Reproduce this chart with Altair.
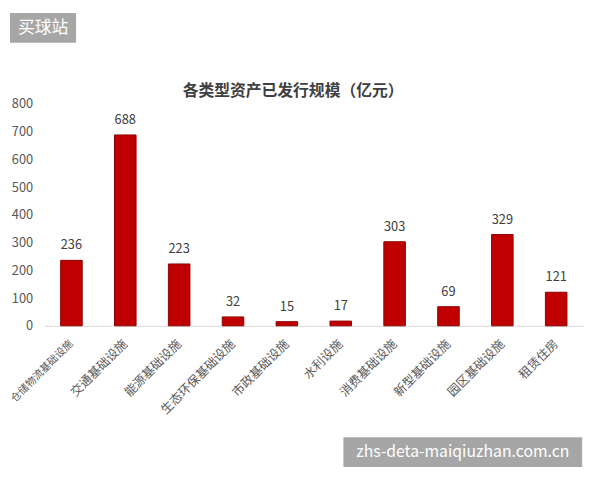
import altair as alt
import pandas as pd

categories = ["仓储物流基础设施", "交通基础设施", "能源基础设施", "生态环保基础设施",
              "市政基础设施", "水利设施", "消费基础设施", "新型基础设施",
              "园区基础设施", "租赁住房"]
values = [236, 688, 223, 32, 15, 17, 303, 69, 329, 121]
y_ticks = [0, 100, 200, 300, 400, 500, 600, 700, 800]
title_text = "各类型资产已发行规模（亿元）"
wm_top = "买球站"
wm_bottom = "zhs-deta-maiqiuzhan.com.cn"

df = pd.DataFrame({"cat": categories, "val": values})
FONT = "Noto Sans CJK SC"

x_enc = alt.X("cat:N", sort=categories, title=None,
              scale=alt.Scale(paddingInner=0.6, paddingOuter=0.3),
              axis=alt.Axis(labelAngle=-45, labelAlign="right", labelBaseline="middle",
                            labelPadding=16, labelOffset=0,
                            labelFontSize={"condition": {"test": "datum.value === '仓储物流基础设施'",
                                                         "value": 10.5},
                                           "value": 12.5},
                            labelColor="#595959",
                            labelFont=FONT, ticks=False, domainColor="#d9d9d9",
                            domainWidth=1, labelOverlap=False))
y_enc = alt.Y("val:Q", title=None,
              scale=alt.Scale(domain=[0, 800], nice=False),
              axis=alt.Axis(values=y_ticks, grid=False, domain=False, ticks=False,
                            labelPadding=12, labelFontSize=13, labelColor="#595959",
                            labelFont=FONT, labelOverlap=False, labelBound=False))

bars = alt.Chart(df).mark_bar(color="#c00000", stroke="#8b0000", strokeWidth=1).encode(
    x=x_enc, y=y_enc)

labels = alt.Chart(df).mark_text(baseline="middle", dy=-15, fontSize=13,
                                 color="#404040", font=FONT).encode(
    x=x_enc, y=y_enc, text="val:Q")

dummy = pd.DataFrame({"a": [1]})
title = alt.Chart(dummy).mark_text(color="#404040", fontSize=16, fontWeight="bold", font=FONT,
                                   align="center", baseline="middle").encode(
    x=alt.value(252), y=alt.value(-13), text=alt.value(title_text))
wm1_rect = alt.Chart(dummy).mark_rect(color="#a6a6a6").encode(
    x=alt.value(-35), x2=alt.value(32), y=alt.value(-92), y2=alt.value(-62))
wm1_text = alt.Chart(dummy).mark_text(color="white", fontSize=17, font=FONT,
                                      align="center", baseline="middle").encode(
    x=alt.value(-1.5), y=alt.value(-77), text=alt.value(wm_top))
wm2_rect = alt.Chart(dummy).mark_rect(color="#a6a6a6").encode(
    x=alt.value(303), x2=alt.value(545), y=alt.value(338), y2=alt.value(368))
wm2_text = alt.Chart(dummy).mark_text(color="white", fontSize=16, font=FONT,
                                      align="center", baseline="middle").encode(
    x=alt.value(424), y=alt.value(353), text=alt.value(wm_bottom))

chart = alt.layer(bars, labels, title, wm1_rect, wm1_text, wm2_rect, wm2_text).properties(
    width=546, height=225,
    autosize=alt.AutoSizeParams(type="none"),
    padding={"left": 37, "top": 94, "right": 9, "bottom": 145},
).configure_view(stroke=None).configure_axis(labelOverlap=False)

chart.save("out.html", embed_options={"renderer": "svg", "actions": False})
